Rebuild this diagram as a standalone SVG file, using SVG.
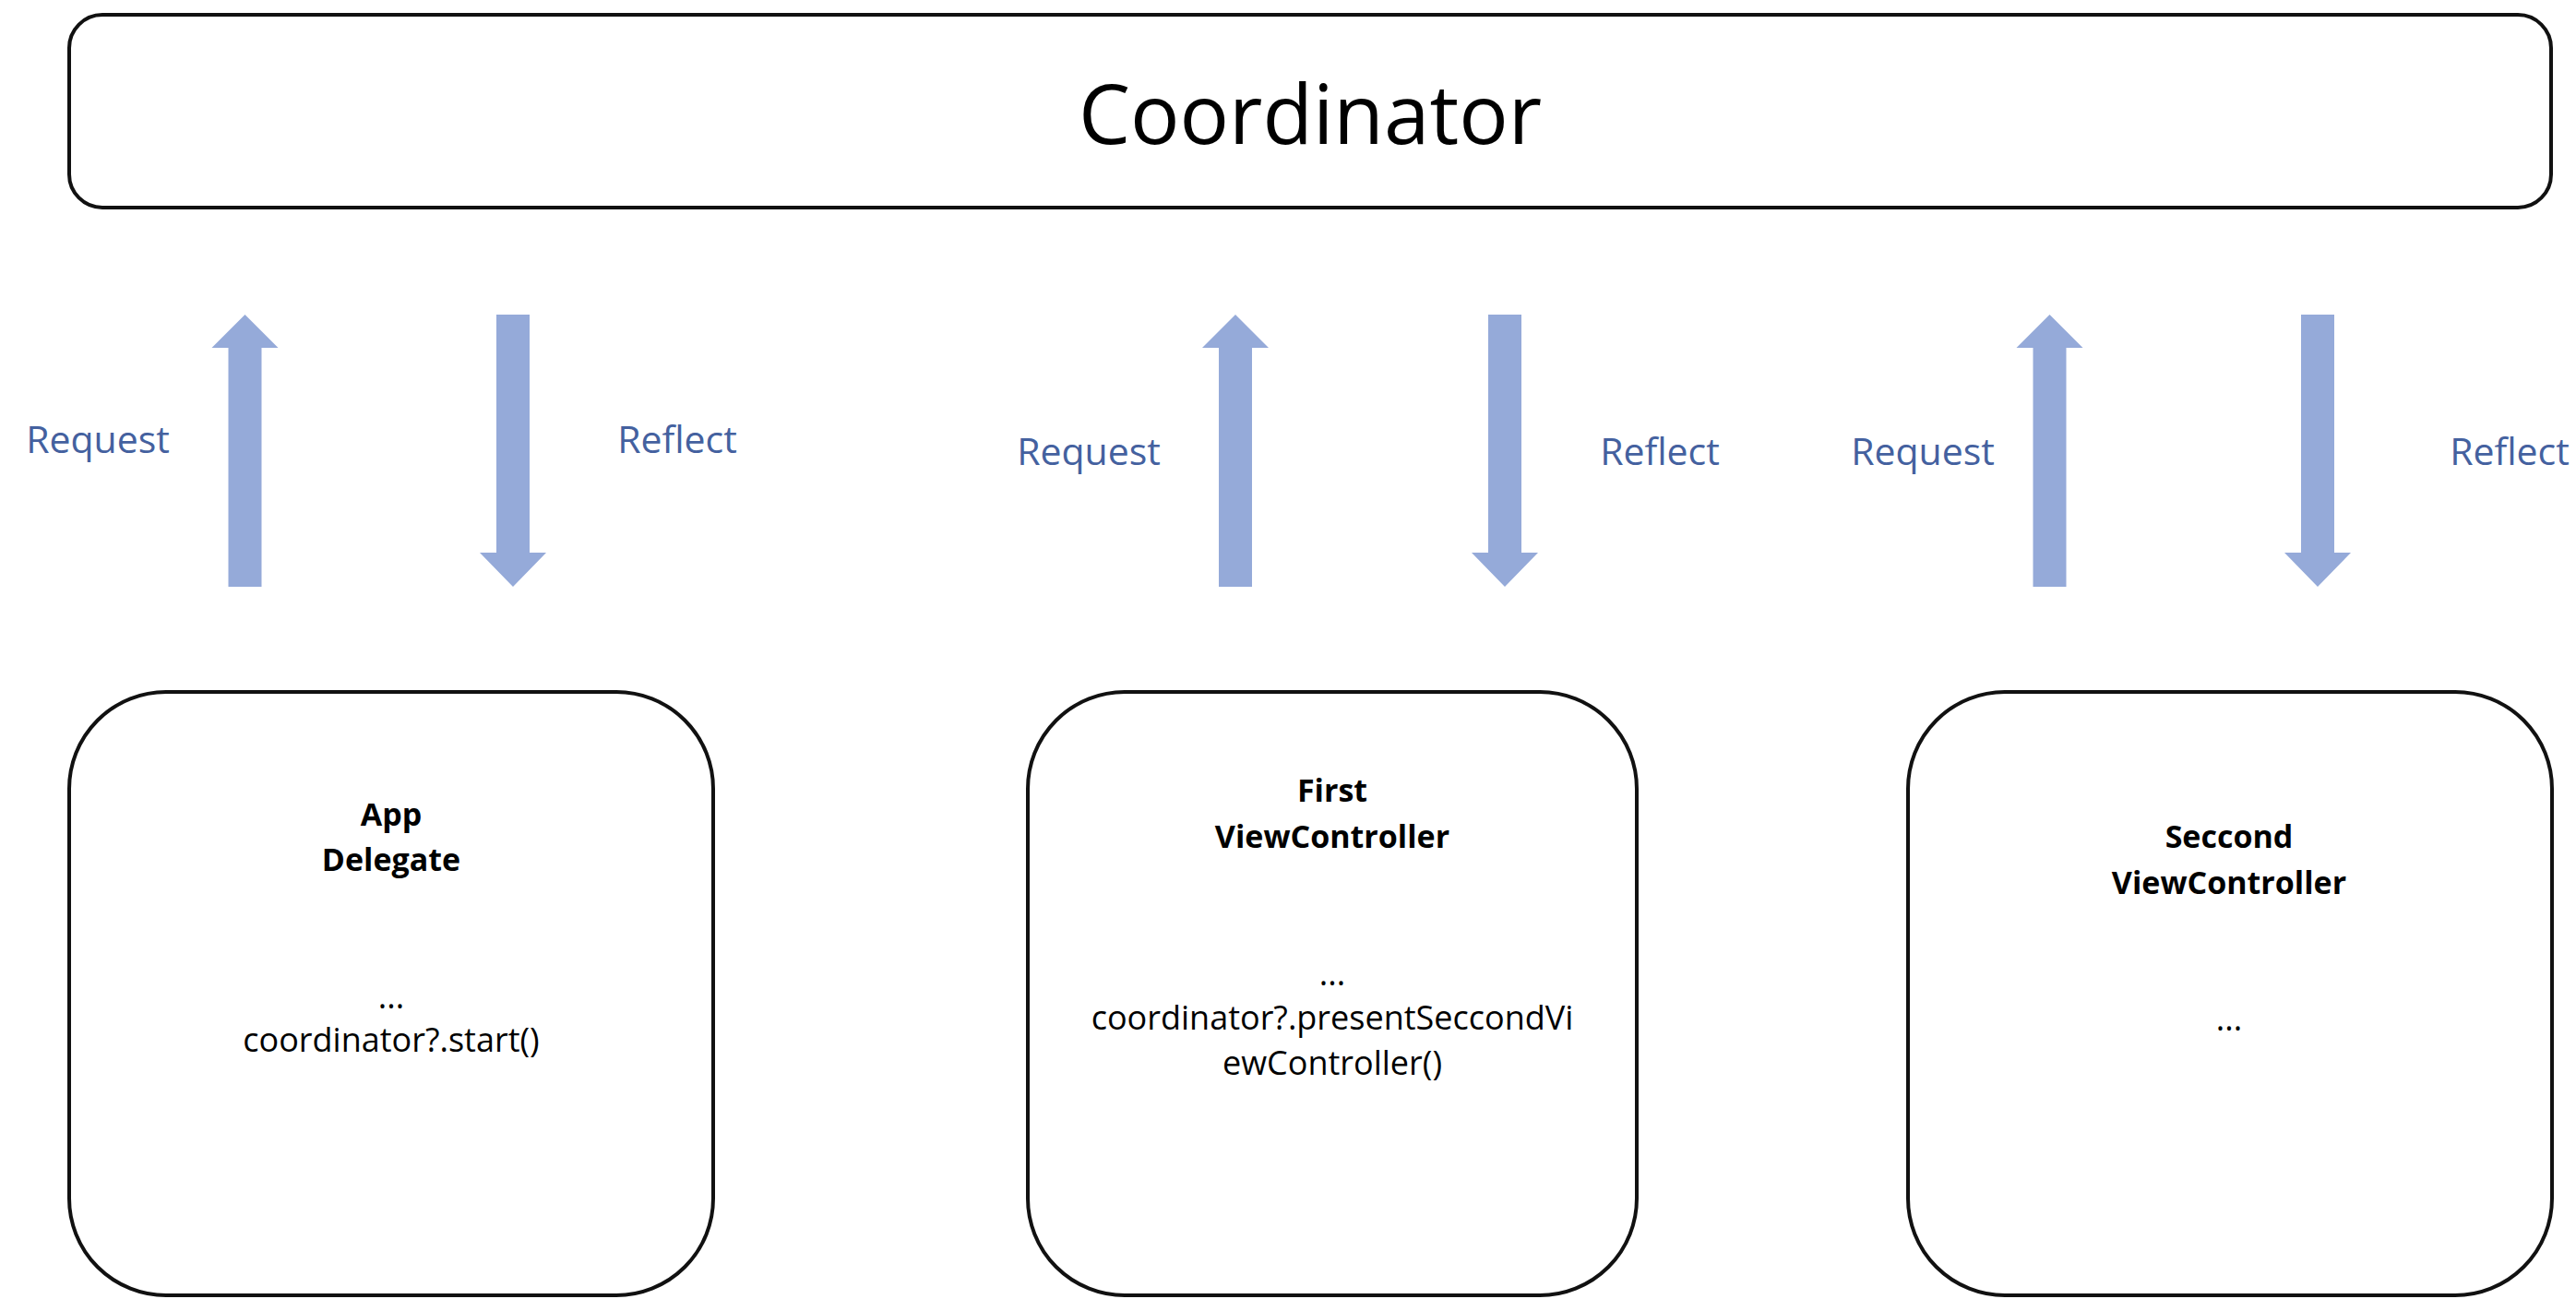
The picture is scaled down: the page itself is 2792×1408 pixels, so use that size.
<svg xmlns="http://www.w3.org/2000/svg" width="2792" height="1408" viewBox="0 0 2792 1408">
<style>
.box{fill:#fff;stroke:#111;stroke-width:4}
.arrow{fill:#95aad9}
.lbl{font-family:"Open Sans","Liberation Sans",sans-serif;font-size:41px;fill:#44619f;text-anchor:middle}
.title{font-family:"Open Sans","Liberation Sans",sans-serif;font-size:89px;fill:#000;text-anchor:middle}
.hd{font-family:"Open Sans","Liberation Sans",sans-serif;font-size:34px;font-weight:bold;fill:#000;text-anchor:middle}
.bd{font-family:"Open Sans","Liberation Sans",sans-serif;font-size:36px;fill:#000;text-anchor:middle}
</style>
<rect width="2792" height="1408" fill="#fff"/>
<g id="coordinator">
<rect class="box" x="75" y="16" width="2690" height="209" rx="36"/>
<text class="title" x="1420" y="156">Coordinator</text>
</g>
<g id="connectors">
<polygon class="arrow" points="265.5,341 301.5,377 283.5,377 283.5,636 247.5,636 247.5,377 229.5,377"/>
<polygon class="arrow" points="538,341 574,341 574,599 592,599 556,636 520,599 538,599"/>
<polygon class="arrow" points="1339,341 1375,377 1357,377 1357,636 1321,636 1321,377 1303,377"/>
<polygon class="arrow" points="1613,341 1649,341 1649,599 1667,599 1631,636 1595,599 1613,599"/>
<polygon class="arrow" points="2221.5,341 2257.5,377 2239.5,377 2239.5,636 2203.5,636 2203.5,377 2185.5,377"/>
<polygon class="arrow" points="2494,341 2530,341 2530,599 2548,599 2512,636 2476,599 2494,599"/>
<text class="lbl" x="106" y="491">Request</text>
<text class="lbl" x="734" y="491">Reflect</text>
<text class="lbl" x="1180" y="504">Request</text>
<text class="lbl" x="1799" y="504">Reflect</text>
<text class="lbl" x="2084" y="504">Request</text>
<text class="lbl" x="2720" y="504">Reflect</text>
</g>
<g id="app-delegate">
<rect class="box" x="75" y="750" width="698" height="654" rx="105"/>
<text class="hd" x="424" y="895">App</text>
<text class="hd" x="424" y="944">Delegate</text>
<text class="bd" x="424" y="1093">...</text>
<text class="bd" x="424" y="1140">coordinator?.start()</text>
</g>
<g id="first-vc">
<rect class="box" x="1114" y="750" width="660" height="654" rx="105"/>
<text class="hd" x="1444" y="869">First</text>
<text class="hd" x="1444" y="919">ViewController</text>
<text class="bd" x="1444" y="1068">...</text>
<text class="bd" x="1444" y="1116">coordinator?.presentSeccondVi</text>
<text class="bd" x="1444" y="1165">ewController()</text>
</g>
<g id="second-vc">
<rect class="box" x="2068" y="750" width="698" height="654" rx="105"/>
<text class="hd" x="2416" y="919">Seccond</text>
<text class="hd" x="2416" y="969">ViewController</text>
<text class="bd" x="2416" y="1117">...</text>
</g>
</svg>
